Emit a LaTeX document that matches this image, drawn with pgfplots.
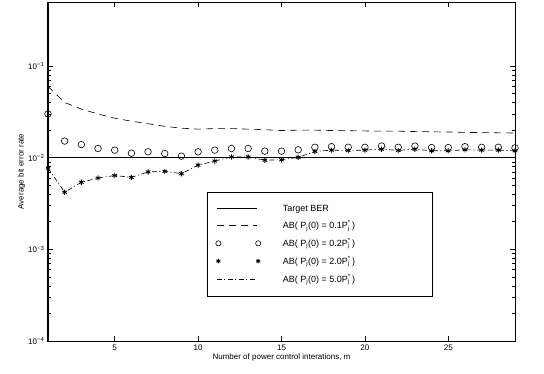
\documentclass[border=0pt]{standalone}
\usepackage{fontspec}
\setmainfont{Liberation Sans}
\usepackage{pgfplots}
\pgfplotsset{compat=1.18}
\begin{document}
\begin{tikzpicture}
\begin{axis}[
  scale only axis,
  width=467pt, height=339pt,
  ymode=log,
  xmin=1, xmax=29,
  ymin=1e-4, ymax=0.5,
  xtick={5,10,15,20,25},
  ytick={1e-4,1e-3,1e-2,1e-1},
  yticklabels={10\textsuperscript{−4},10\textsuperscript{−3},10\textsuperscript{−2},10\textsuperscript{−1}},
  /pgf/number format/assume math mode=true,
  tick align=inside,
  major tick length=5pt,
  minor tick length=3pt,
  axis line style={line width=1pt},
  every tick/.style={line width=0.6pt, black},
  tick label style={font=\fontsize{8}{9}\selectfont},
  xlabel={Number of power control interations, m},
  ylabel={Average bit error rate},
  label style={font=\fontsize{8}{9}\selectfont},
  xlabel style={yshift=3pt},
  ylabel style={yshift=-4pt},
  legend style={at={(0.341,0.440)}, anchor=north west, draw=black, line width=1pt,
    font=\fontsize{9}{10}\selectfont, row sep=4.3pt, column sep=20pt,
    inner xsep=8pt, inner ysep=10.5pt},
  legend cell align=left,
]
\addplot[black, line width=0.6pt, legend image code/.code={\draw[black,line width=0.6pt] (0cm,0cm) -- (1.4cm,0cm);}] coordinates {(1,0.01) (29,0.01)};
\addlegendentry{\makebox[140pt][l]{Target BER}}
\addplot[black, line width=0.6pt, dash pattern=on 7pt off 5pt, legend image code/.code={\draw[black,line width=0.6pt,dash pattern=on 7pt off 5pt] (0cm,0cm) -- (1.4cm,0cm);}] coordinates {
(1,0.060) (2,0.040) (3,0.034) (4,0.030) (5,0.027) (6,0.025) (7,0.0235) (8,0.022) (9,0.021) (10,0.0205)
(11,0.0208) (12,0.0208) (13,0.0205) (14,0.0202) (15,0.0198) (16,0.0200) (17,0.0200) (18,0.0198) (19,0.0197) (20,0.0196)
(21,0.0195) (22,0.0195) (23,0.0193) (24,0.0192) (25,0.0191) (26,0.0189) (27,0.0188) (28,0.0187) (29,0.0186)};
\addlegendentry{AB( P\textsubscript{j}(0) = 0.1P\rlap{\textsuperscript{*}}\textsubscript{j} )}
\addplot[black, only marks, mark=o, mark size=3.3pt, mark options={line width=0.6pt}, legend image code/.code={\draw[black,line width=0.6pt] plot[mark=o, mark size=2.6pt] coordinates {(0.05cm,0cm)}; \draw[black,line width=0.6pt] plot[mark=o, mark size=2.6pt] coordinates {(1.45cm,0cm)};}] coordinates {
(1,0.030) (2,0.0152) (3,0.0139) (4,0.0126) (5,0.0121) (6,0.0112) (7,0.0116) (8,0.0111) (9,0.0104) (10,0.0116)
(11,0.0121) (12,0.0126) (13,0.0126) (14,0.0118) (15,0.0118) (16,0.0122) (17,0.0130) (18,0.0132) (19,0.0130) (20,0.0130)
(21,0.0134) (22,0.0130) (23,0.0134) (24,0.0129) (25,0.0129) (26,0.0132) (27,0.0130) (28,0.0130) (29,0.0128)};
\addlegendentry{AB( P\textsubscript{j}(0) = 0.2P\rlap{\textsuperscript{*}}\textsubscript{j} )}
\addplot[black, only marks, mark=asterisk, mark size=2.6pt, mark options={line width=0.9pt}, legend image code/.code={\draw[black,line width=0.9pt] plot[mark=asterisk, mark size=2.3pt] coordinates {(0.05cm,0cm)}; \draw[black,line width=0.9pt] plot[mark=asterisk, mark size=2.3pt] coordinates {(1.45cm,0cm)};}] coordinates {
(1,0.0077) (2,0.0042) (3,0.0054) (4,0.0060) (5,0.0064) (6,0.0061) (7,0.0070) (8,0.0071) (9,0.0067) (10,0.0083)
(11,0.0092) (12,0.0102) (13,0.0102) (14,0.0094) (15,0.0095) (16,0.0101) (17,0.0117) (18,0.0121) (19,0.0120) (20,0.0121)
(21,0.0124) (22,0.0120) (23,0.0124) (24,0.0119) (25,0.0119) (26,0.0122) (27,0.0121) (28,0.0121) (29,0.0119)};
\addlegendentry{AB( P\textsubscript{j}(0) = 2.0P\rlap{\textsuperscript{*}}\textsubscript{j} )}
\addplot[black, line width=0.6pt, dash pattern=on 5pt off 2.5pt on 1pt off 2.5pt, legend image code/.code={\draw[black,line width=0.6pt,dash pattern=on 5pt off 2.5pt on 1pt off 2.5pt] (0cm,0cm) -- (1.4cm,0cm);}] coordinates {
(1,0.0077) (2,0.0042) (3,0.0054) (4,0.0060) (5,0.0064) (6,0.0061) (7,0.0070) (8,0.0071) (9,0.0067) (10,0.0083)
(11,0.0092) (12,0.0102) (13,0.0102) (14,0.0094) (15,0.0095) (16,0.0101) (17,0.0117) (18,0.0121) (19,0.0120) (20,0.0121)
(21,0.0124) (22,0.0120) (23,0.0124) (24,0.0119) (25,0.0119) (26,0.0122) (27,0.0121) (28,0.0121) (29,0.0119)};
\addlegendentry{AB( P\textsubscript{j}(0) = 5.0P\rlap{\textsuperscript{*}}\textsubscript{j} )}
\end{axis}
\path (current axis.south west) ++(-48pt,-32pt) coordinate (bbA);
\path (current axis.north east) ++(29pt,2pt) coordinate (bbB);
\path (bbA) rectangle (bbB);
\end{tikzpicture}
\end{document}
